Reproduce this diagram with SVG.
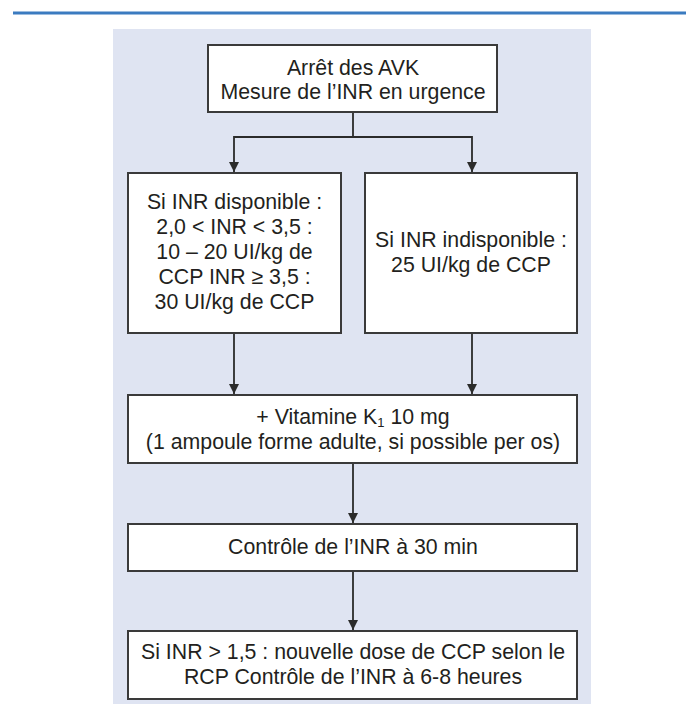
<svg xmlns="http://www.w3.org/2000/svg" width="686" height="704" viewBox="0 0 686 704">
  <defs>
    <style>
      .box { fill: #ffffff; stroke: #3a3a3a; stroke-width: 2; }
      .t { font-family: "Liberation Sans", Arial, sans-serif; font-size: 21.3px; fill: #231f20; text-anchor: middle; }
      .c { fill: none; stroke: #2b2b2b; stroke-width: 1.8; }
    </style>
    <marker id="ah" viewBox="0 0 10 10" refX="10" refY="5" markerWidth="10" markerHeight="10" markerUnits="userSpaceOnUse" orient="auto">
      <path d="M0,0 L10,5 L0,10 z" fill="#2b2b2b"/>
    </marker>
  </defs>
  <rect width="686" height="704" fill="#ffffff"/>
  <line x1="13" y1="13" x2="686" y2="13" stroke="#3b7bc0" stroke-width="3"/>
  <rect x="113" y="29" width="478" height="675" fill="#dfe4f2"/>

  <g id="connectors">
    <polyline class="c" points="353,112 353,137 234,137 234,172" marker-end="url(#ah)"/>
    <polyline class="c" points="353,137 472,137 472,172" marker-end="url(#ah)"/>
    <line class="c" x1="234" y1="333" x2="234" y2="394" marker-end="url(#ah)"/>
    <line class="c" x1="472" y1="333" x2="472" y2="394" marker-end="url(#ah)"/>
    <line class="c" x1="353" y1="463" x2="353" y2="523" marker-end="url(#ah)"/>
    <line class="c" x1="353" y1="571" x2="353" y2="630" marker-end="url(#ah)"/>
  </g>

  <g id="n-arret">
    <rect class="box" x="208" y="45" width="289" height="67"/>
    <text class="t" x="353" y="75">Arrêt des AVK</text>
    <text class="t" x="353" y="99">Mesure de l’INR en urgence</text>
  </g>

  <g id="n-disponible">
    <rect class="box" x="128" y="173" width="213" height="160"/>
    <text class="t" x="234.5" y="209">Si INR disponible :</text>
    <text class="t" x="234.5" y="234">2,0 &lt; INR &lt; 3,5 :</text>
    <text class="t" x="234.5" y="259">10 – 20 UI/kg de</text>
    <text class="t" x="234.5" y="284">CCP INR ≥ 3,5 :</text>
    <text class="t" x="234.5" y="309">30 UI/kg de CCP</text>
  </g>

  <g id="n-indisponible">
    <rect class="box" x="365" y="173" width="212" height="160"/>
    <text class="t" x="471" y="247">Si INR indisponible :</text>
    <text class="t" x="471" y="272">25 UI/kg de CCP</text>
  </g>

  <g id="n-vitamine">
    <rect class="box" x="128" y="395" width="449" height="68"/>
    <text class="t" x="353" y="424">+ Vitamine K<tspan font-size="13" dy="3">1</tspan><tspan dy="-3"> 10 mg</tspan></text>
    <text class="t" x="353" y="449">(1 ampoule forme adulte, si possible per os)</text>
  </g>

  <g id="n-controle">
    <rect class="box" x="128" y="524" width="449" height="47"/>
    <text class="t" x="353" y="554">Contrôle de l’INR à 30 min</text>
  </g>

  <g id="n-nouvelle">
    <rect class="box" x="128" y="631" width="449" height="68"/>
    <text class="t" x="353" y="659">Si INR &gt; 1,5 : nouvelle dose de CCP selon le</text>
    <text class="t" x="353" y="684">RCP Contrôle de l’INR à 6-8 heures</text>
  </g>
</svg>
